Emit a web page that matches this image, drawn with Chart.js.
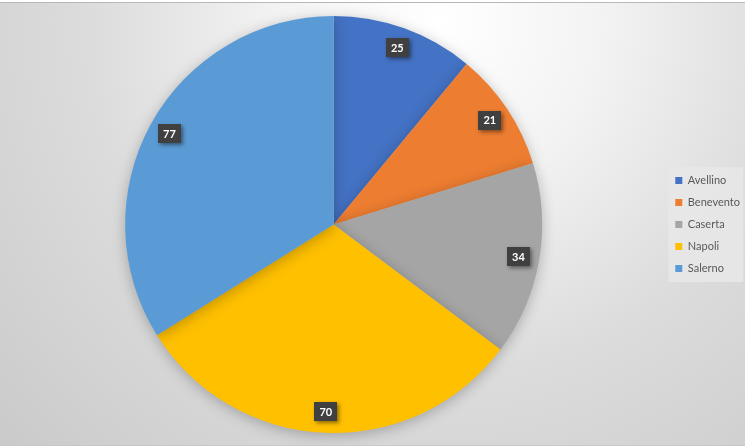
<!DOCTYPE html>
<html>
<head>
<meta charset="utf-8">
<script src="https://cdn.jsdelivr.net/npm/chart.js@4"></script>
<style>
html,body{margin:0;padding:0;background:#ffffff;width:754px;height:448px;overflow:hidden;}
#frame{position:absolute;left:0;top:2px;width:745px;height:444px;border-top:1px solid #b8b8b8;border-bottom:1px solid #c8c8c8;box-sizing:border-box;
background:radial-gradient(circle 640px at 440px 20px,#ffffff 0%,#f3f3f3 25%,#dcdcdc 55%,#c8c8c8 100%);}
#gridr{position:absolute;left:745px;top:0;width:9px;height:448px;background:#fff;}
#wrap{position:absolute;left:0;top:0;width:745px;height:442px;}
</style>
</head>
<body>
<div id="frame"><div id="wrap"><canvas id="c"></canvas></div></div>
<div id="gridr"></div>
<script>
const categories = ["Avellino","Benevento","Caserta","Napoli","Salerno"];
const values = [25,21,34,70,77];
const colors = ["#4472C4","#ED7D31","#A5A5A5","#FFC000","#5B9BD5"];

const legendBox = {
  id:'legendBox',
  beforeDraw(chart){
    const lg = chart.legend;
    if(!lg || !lg.legendHitBoxes || !lg.legendHitBoxes.length) return;
    const hb = lg.legendHitBoxes;
    const ctx = chart.ctx;
    const x0 = Math.min(...hb.map(h=>h.left)) - 7;
    const y0 = hb[0].top - 8;
    const x1 = x0 + 75;
    const y1 = hb[hb.length-1].top + hb[hb.length-1].height + 8;
    ctx.save();
    ctx.fillStyle = 'rgba(232,232,232,0.85)';
    ctx.fillRect(x0,y0,x1-x0,y1-y0);
    ctx.restore();
  }
};

const shadowPlugin = {
  id:'shadowPlugin',
  beforeDatasetsDraw(chart){
    const ctx = chart.ctx;
    ctx.save();
    ctx.shadowColor = 'rgba(0,0,0,0.25)';
    ctx.shadowBlur = 14;
    ctx.shadowOffsetX = 0;
    ctx.shadowOffsetY = 3;
  },
  afterDatasetsDraw(chart){
    chart.ctx.restore();
  }
};

const labelPlugin = {
  id:'labelPlugin',
  afterDatasetsDraw(chart){
    const ctx = chart.ctx;
    const meta = chart.getDatasetMeta(0);
    ctx.save();
    ctx.font = 'bold 11px Lato, "Liberation Sans", sans-serif';
    ctx.textAlign = 'center';
    ctx.textBaseline = 'middle';
    meta.data.forEach((arc,i)=>{
      const p = arc.getProps(['x','y','startAngle','endAngle','outerRadius'],true);
      const mid = (p.startAngle+p.endAngle)/2;
      const r = p.outerRadius*0.9;
      const x = p.x + Math.cos(mid)*r;
      const y = p.y + Math.sin(mid)*r;
      const txt = String(values[i]);
      const w = ctx.measureText(txt).width + 10;
      const h = 19;
      ctx.save();
      ctx.shadowColor='rgba(0,0,0,0.45)';
      ctx.shadowBlur=4;
      ctx.shadowOffsetX=2;
      ctx.shadowOffsetY=2;
      ctx.fillStyle='#404040';
      ctx.fillRect(Math.round(x-w/2),Math.round(y-h/2),Math.round(w),h);
      ctx.restore();
      ctx.fillStyle='#ffffff';
      ctx.fillText(txt,x,y+0.5);
    });
    ctx.restore();
  }
};

new Chart(document.getElementById('c'),{
  type:'pie',
  data:{
    labels:categories,
    datasets:[{data:values,backgroundColor:colors,borderWidth:0}]
  },
  options:{
    responsive:true,
    maintainAspectRatio:false,
    animation:false,
    layout:{padding:{top:13,bottom:12,left:3,right:-5}},
    plugins:{
      tooltip:{enabled:false},
      legend:{
        position:'right',
        labels:{
          boxWidth:7,boxHeight:7,padding:11,
          color:'#595959',
          font:{size:11,family:'Lato, "Liberation Sans", sans-serif'}
        }
      }
    }
  },
  plugins:[legendBox,shadowPlugin,labelPlugin]
});
</script>
</body>
</html>
